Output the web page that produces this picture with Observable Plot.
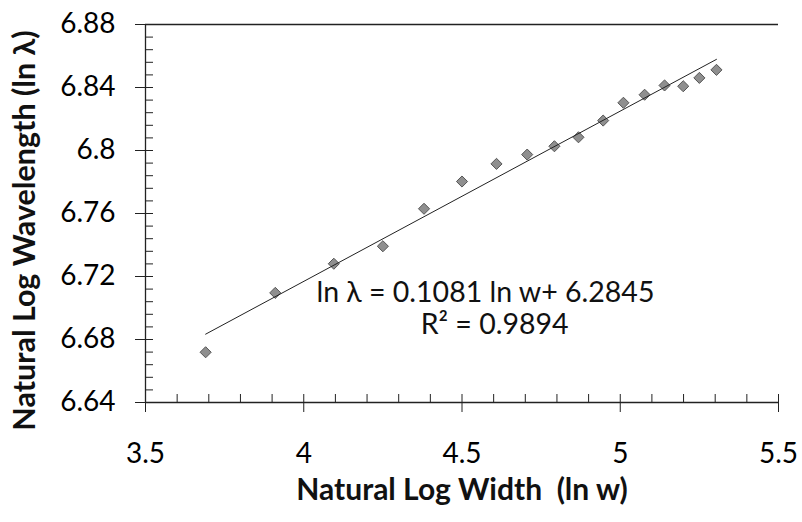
<!DOCTYPE html>
<html><head><meta charset="utf-8">
<script src="https://cdn.jsdelivr.net/npm/d3@7"></script>
<script src="https://cdn.jsdelivr.net/npm/@observablehq/plot@0.6"></script>
<style>body{margin:0;background:#fff}</style>
</head><body><div id="chart"></div>
<script>
const lnWidth = [3.69, 3.91, 4.095, 4.25, 4.38, 4.50, 4.609, 4.706, 4.792, 4.868, 4.946, 5.010, 5.077, 5.140, 5.199, 5.25, 5.304];
const lnWavelength = [6.6719, 6.7096, 6.7281, 6.7392, 6.7630, 6.7803, 6.7915, 6.7974, 6.8027, 6.8084, 6.8190, 6.8303, 6.8354, 6.8413, 6.8408, 6.8461, 6.8512];
const slope = 0.1081;
const intercept = 6.2845;
const xTicks = [3.5, 4, 4.5, 5, 5.5];
const yTicks = [6.64, 6.68, 6.72, 6.76, 6.8, 6.84, 6.88];
const yTickLabels = ["6.64", "6.68", "6.72", "6.76", "6.8", "6.84", "6.88"];
const xTickLabels = ["3.5", "4", "4.5", "5", "5.5"];
const eqLines = ["ln \u03bb = 0.1081 ln w+ 6.2845", "R\u00b2 = 0.9894"];
const eqX = [4.574, 4.603];
const eqY = [6.7095, 6.689];
const xTitle = "Natural Log Width\u00a0\u00a0(ln w)";
const yTitle = "Natural Log Wavelength (ln \u03bb)";

const pts = lnWidth.map((x, i) => ({x, y: lnWavelength[i]}));
const fit = d3.extent(lnWidth).map(x => ({x, y: slope * x + intercept}));
const xMinor = d3.range(0, 21).map(i => 3.5 + i * 0.1);
const yMinor = d3.range(0, 31).map(i => 6.64 + i * 0.008);
const font = "Lato, 'Open Sans', sans-serif";
const axisColor = "#222";

const plot = Plot.plot({
  width: 802, height: 522,
  marginLeft: 145, marginRight: 24, marginTop: 24, marginBottom: 120,
  style: {fontFamily: font, background: "#fff", color: "#000"},
  x: {domain: [3.5, 5.5]},
  y: {domain: [6.64, 6.88]},
  marks: [
    Plot.ruleY([6.88], {stroke: axisColor, strokeWidth: 1.3}),
    Plot.ruleX([3.5], {stroke: axisColor, strokeWidth: 1.3}),
    Plot.ruleY([6.64], {stroke: axisColor, strokeWidth: 1.3}),
    Plot.axisX(xTicks, {tickSize: 10, tickFormat: () => "", label: null, stroke: axisColor}),
    Plot.axisX(xMinor, {tickSize: -8, tickFormat: () => "", label: null, stroke: axisColor}),
    Plot.axisX(xTicks, {tickSize: 0, tickPadding: 41, tickFormat: (d, i) => xTickLabels[i], label: null, fontSize: 28, fill: "#000"}),
    Plot.axisY(yTicks, {tickSize: 10, tickFormat: () => "", label: null, stroke: axisColor}),
    Plot.axisY(yMinor, {tickSize: -8, tickFormat: () => "", label: null, stroke: axisColor}),
    Plot.axisY(yTicks, {tickSize: 0, tickPadding: 30, tickFormat: (d, i) => yTickLabels[i], label: null, fontSize: 28, fill: "#000"}),
    Plot.dot(pts, {x: "x", y: "y", symbol: "diamond2", r: 5, fill: "#8f8f8f", stroke: "#555", strokeWidth: 1}),
    Plot.line(fit, {x: "x", y: "y", stroke: "#222", strokeWidth: 1}),
    Plot.text(eqLines, {x: (d, i) => eqX[i], y: (d, i) => eqY[i], text: d => d, fontSize: 28.5, fill: "#111"}),
    Plot.text([xTitle], {frameAnchor: "bottom", dy: 97, text: d => d, fontSize: 30, fontWeight: "bold", fill: "#111"}),
    Plot.text([yTitle], {frameAnchor: "left", textAnchor: "middle", dx: -120, dy: 17, rotate: -90, text: d => d, fontSize: 30.5, fontWeight: "bold", fill: "#111"})
  ]
});
document.getElementById("chart").appendChild(plot);
</script>
</body></html>
